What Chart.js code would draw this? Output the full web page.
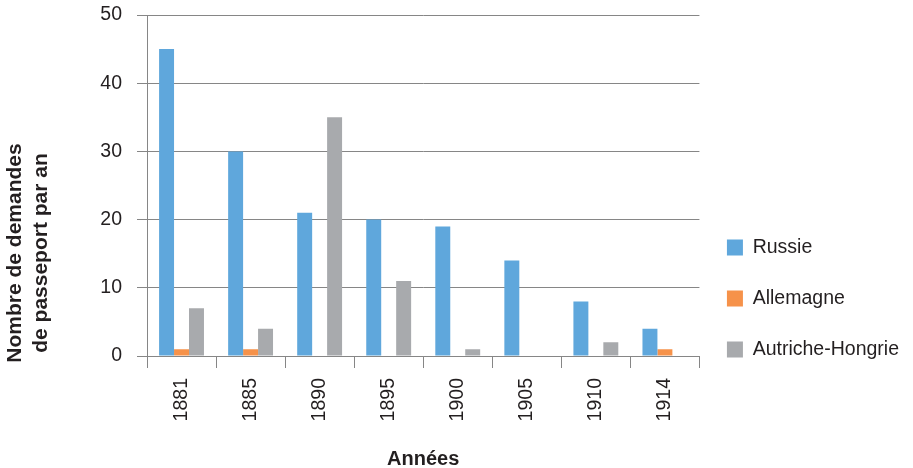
<!DOCTYPE html>
<html lang="fr">
<head>
<meta charset="utf-8">
<title>Demandes de passeport par an</title>
<script src="https://cdn.jsdelivr.net/npm/chart.js@4/dist/chart.umd.min.js"></script>
<style>
  html, body { margin: 0; padding: 0; background: #ffffff; }
  #wrap { position: relative; width: 913px; height: 468px; }
</style>
</head>
<body>
<div id="wrap"><canvas id="chart"></canvas></div>
<script>
// Années
const years = ['1881', '1885', '1890', '1895', '1900', '1905', '1910', '1914'];
// Demandes de passeport par an, par pays d'origine
const russie = [45, 30, 21, 20, 19, 14, 8, 4];
const allemagne = [1, 1, 0, 0, 0, 0, 0, 1];
const autricheHongrie = [7, 4, 35, 11, 1, 0, 2, 0];
// Titre de l'axe vertical (deux lignes)
const yTitleLines = ['Nombre de demandes', 'de passeport par an'];

const TEXT = '#231f20';
const GRID = '#868686';
const FONT = '"Liberation Sans", Arial, sans-serif';

const bar = (label, data, color) => ({
  label, data,
  backgroundColor: color,
  borderWidth: 0,
  categoryPercentage: 0.65,
  barPercentage: 1.0
});

// Titre vertical dessiné à gauche de l'axe, centré un peu sous le milieu
const yTitlePlugin = {
  id: 'yTitle',
  afterDraw(chart) {
    const { ctx, chartArea } = chart;
    const scale = chart.scales.y;
    ctx.save();
    ctx.fillStyle = TEXT;
    ctx.font = 'bold 21px ' + FONT;
    ctx.textAlign = 'center';
    ctx.textBaseline = 'middle';
    ctx.translate(scale.left + 15, chartArea.bottom - 103);
    ctx.rotate(-Math.PI / 2);
    yTitleLines.forEach((line, i) => ctx.fillText(line, 0, i * 26));
    ctx.restore();
  }
};

// Légende rapprochée de la zone de tracé
const legendShift = {
  id: 'legendShift',
  afterLayout(chart) {
    if (chart.legend) {
      chart.legend.left -= 4;
      chart.legend.right -= 4;
    }
  }
};

new Chart(document.getElementById('chart'), {
  type: 'bar',
  data: {
    labels: years,
    datasets: [
      bar('Russie', russie, '#5fa7dc'),
      bar('Allemagne', allemagne, '#f6924a'),
      bar('Autriche-Hongrie', autricheHongrie, '#a8aaad')
    ]
  },
  plugins: [yTitlePlugin, legendShift],
  options: {
    responsive: true,
    maintainAspectRatio: false,
    animation: false,
    layout: { padding: 0 },
    plugins: {
      tooltip: { enabled: false },
      legend: {
        position: 'right',
        align: 'center',
        title: {
          display: true,
          text: ' ',
          font: { family: FONT, size: 10, lineHeight: 1 },
          padding: { top: 0, bottom: 119 }
        },
        labels: {
          color: TEXT,
          font: { family: FONT, size: 19.5 },
          boxWidth: 16,
          boxHeight: 16,
          padding: 31.5
        }
      }
    },
    scales: {
      x: {
        offset: true,
        afterFit(scale) { scale.height = 112; },
        grid: {
          offset: true,
          drawOnChartArea: false,
          drawTicks: true,
          tickLength: 12,
          color: GRID
        },
        border: { color: GRID },
        ticks: {
          color: TEXT,
          font: { family: FONT, size: 19.5 },
          minRotation: 90,
          maxRotation: 90,
          padding: 10
        },
        title: {
          display: true,
          text: 'Années',
          color: TEXT,
          font: { family: FONT, size: 20, weight: 'bold', lineHeight: 1.2 },
          padding: { top: 24, bottom: -3 }
        }
      },
      y: {
        min: 0,
        max: 50,
        afterFit(scale) {
          scale.width = 147;
          scale.paddingTop = 15;
        },
        ticks: {
          stepSize: 10,
          color: TEXT,
          font: { family: FONT, size: 19.5 },
          padding: 15
        },
        grid: {
          color: GRID,
          drawTicks: true,
          tickLength: 10
        },
        border: { color: GRID }
      }
    }
  }
});
</script>
</body>
</html>
